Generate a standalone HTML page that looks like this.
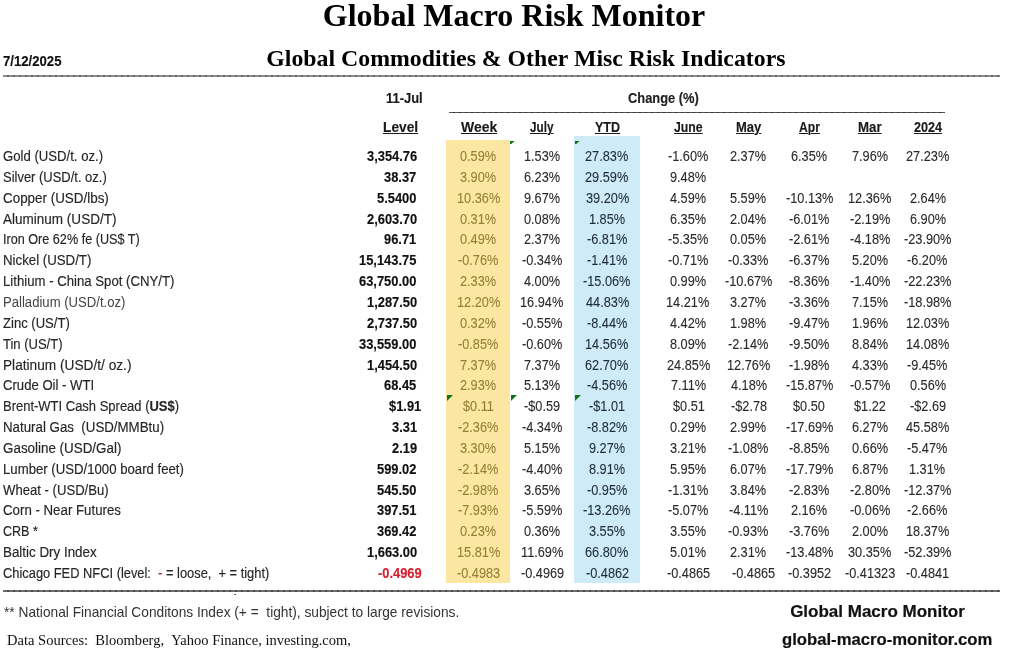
<!DOCTYPE html>
<html><head><meta charset="utf-8"><title>Global Macro Risk Monitor</title>
<style>
html,body{margin:0;padding:0;background:#fff;}
body{width:1024px;height:652px;position:relative;overflow:hidden;font-family:"Liberation Sans", sans-serif;}
.t{position:absolute;white-space:pre;line-height:1;transform-origin:0 0;}
.u{text-decoration:underline;text-underline-offset:1px;text-decoration-thickness:1px;}
.ln{position:absolute;}
.tri{position:absolute;width:0;height:0;border-top:6px solid #17701c;border-right:6px solid transparent;}
.clip{position:absolute;overflow:hidden;width:7px;height:3px;}
</style></head><body><div style="position:absolute;left:0;top:0;width:1024px;height:652px;filter:blur(0.3px)">

<div class="ln" style="left:446px;top:140px;width:64px;height:443px;background:#fce7a2"></div>
<div class="ln" style="left:574px;top:136px;width:66px;height:447px;background:#d0ebf8"></div>
<div class="ln" style="left:3px;top:75px;width:997px;height:2px;background:repeating-linear-gradient(90deg,#8c8c8c 0 4.5px,#6a6a6a 4.5px 6px)"></div>
<div class="ln" style="left:449px;top:111.6px;width:495.5px;height:1.6px;background:repeating-linear-gradient(90deg,#555 0 4px,#333 4px 6px)"></div>
<div class="ln" style="left:3px;top:590px;width:997px;height:2px;background:repeating-linear-gradient(90deg,#6e6e6e 0 4.5px,#4a4a4a 4.5px 6px)"></div>
<div class="ln" style="left:234px;top:594px;width:2px;height:1px;background:#666"></div>
<div class="tri" style="left:447px;top:395px"></div>
<div class="tri" style="left:510.5px;top:395px"></div>
<div class="tri" style="left:574.7px;top:395px"></div>
<div class="clip" style="left:510.2px;top:141px"><div class="tri" style="left:0;top:-2px;border-top-width:6.5px;border-right-width:7px"></div></div>
<div class="clip" style="left:575px;top:141px"><div class="tri" style="left:0;top:-2px;border-top-width:6.5px;border-right-width:7px"></div></div>
<div class="t" style="left:322.80px;top:-1.00px;font-family:'Liberation Serif', serif;font-size:32px;font-weight:bold;color:#000;">Global Macro Risk Monitor</div>
<div class="t" style="left:266.35px;top:47.00px;font-family:'Liberation Serif', serif;font-size:23.8px;font-weight:bold;color:#000;">Global Commodities &amp; Other Misc Risk Indicators</div>
<div class="t" style="left:2.63px;top:54.00px;font-family:'Liberation Sans', sans-serif;font-size:14px;font-weight:bold;color:#111;transform:scaleX(0.9382);-webkit-text-stroke:0.15px #111;">7/12/2025</div>
<div class="t" style="left:385.58px;top:91.00px;font-family:'Liberation Sans', sans-serif;font-size:14px;font-weight:bold;color:#1a1a1a;transform:scaleX(0.9245);-webkit-text-stroke:0.15px #1a1a1a;">11-Jul</div>
<div class="t" style="left:628.34px;top:91.00px;font-family:'Liberation Sans', sans-serif;font-size:14px;font-weight:bold;color:#222;transform:scaleX(0.9201);-webkit-text-stroke:0.15px #222;">Change (%)</div>
<div class="t u" style="left:382.62px;top:120.00px;font-family:'Liberation Sans', sans-serif;font-size:14px;font-weight:bold;color:#1a1a1a;transform:scaleX(0.9807);-webkit-text-stroke:0.15px #1a1a1a;">Level</div>
<div class="t u" style="left:460.80px;top:120.00px;font-family:'Liberation Sans', sans-serif;font-size:14px;font-weight:bold;color:#1a1a1a;transform:scaleX(0.9959);-webkit-text-stroke:0.15px #1a1a1a;">Week</div>
<div class="t u" style="left:530.49px;top:120.00px;font-family:'Liberation Sans', sans-serif;font-size:14px;font-weight:bold;color:#1a1a1a;transform:scaleX(0.8360);-webkit-text-stroke:0.15px #1a1a1a;">July</div>
<div class="t u" style="left:594.78px;top:120.00px;font-family:'Liberation Sans', sans-serif;font-size:14px;font-weight:bold;color:#1a1a1a;transform:scaleX(0.8954);-webkit-text-stroke:0.15px #1a1a1a;">YTD</div>
<div class="t u" style="left:673.78px;top:120.00px;font-family:'Liberation Sans', sans-serif;font-size:14px;font-weight:bold;color:#1a1a1a;transform:scaleX(0.8750);-webkit-text-stroke:0.15px #1a1a1a;">June</div>
<div class="t u" style="left:736.07px;top:120.00px;font-family:'Liberation Sans', sans-serif;font-size:14px;font-weight:bold;color:#1a1a1a;transform:scaleX(0.9308);-webkit-text-stroke:0.15px #1a1a1a;">May</div>
<div class="t u" style="left:799.07px;top:120.00px;font-family:'Liberation Sans', sans-serif;font-size:14px;font-weight:bold;color:#1a1a1a;transform:scaleX(0.8681);-webkit-text-stroke:0.15px #1a1a1a;">Apr</div>
<div class="t u" style="left:858.35px;top:120.00px;font-family:'Liberation Sans', sans-serif;font-size:14px;font-weight:bold;color:#1a1a1a;transform:scaleX(0.9474);-webkit-text-stroke:0.15px #1a1a1a;">Mar</div>
<div class="t u" style="left:914.05px;top:120.00px;font-family:'Liberation Sans', sans-serif;font-size:14px;font-weight:bold;color:#1a1a1a;transform:scaleX(0.9016);-webkit-text-stroke:0.15px #1a1a1a;">2024</div>
<div class="t" style="left:3.00px;top:149.00px;font-family:'Liberation Sans', sans-serif;font-size:14px;color:#262626;transform:scaleX(0.9390);-webkit-text-stroke:0.15px #262626;">Gold (USD/t. oz.)</div>
<div class="t" style="left:366.52px;top:149.00px;font-family:'Liberation Sans', sans-serif;font-size:14px;font-weight:bold;color:#111;transform:scaleX(0.9200);-webkit-text-stroke:0.15px #111;">3,354.76</div>
<div class="t" style="left:460.41px;top:149.00px;font-family:'Liberation Sans', sans-serif;font-size:14px;color:#968038;transform:scaleX(0.9100);-webkit-text-stroke:0.1px #968038;">0.59%</div>
<div class="t" style="left:523.69px;top:149.00px;font-family:'Liberation Sans', sans-serif;font-size:14px;color:#2a2a2a;transform:scaleX(0.9100);-webkit-text-stroke:0.1px #2a2a2a;">1.53%</div>
<div class="t" style="left:585.47px;top:149.00px;font-family:'Liberation Sans', sans-serif;font-size:14px;color:#1f2d3a;transform:scaleX(0.9100);-webkit-text-stroke:0.1px #1f2d3a;">27.83%</div>
<div class="t" style="left:668.05px;top:149.00px;font-family:'Liberation Sans', sans-serif;font-size:14px;color:#2a2a2a;transform:scaleX(0.9100);-webkit-text-stroke:0.1px #2a2a2a;">-1.60%</div>
<div class="t" style="left:730.30px;top:149.00px;font-family:'Liberation Sans', sans-serif;font-size:14px;color:#2a2a2a;transform:scaleX(0.9100);-webkit-text-stroke:0.1px #2a2a2a;">2.37%</div>
<div class="t" style="left:791.10px;top:149.00px;font-family:'Liberation Sans', sans-serif;font-size:14px;color:#2a2a2a;transform:scaleX(0.9100);-webkit-text-stroke:0.1px #2a2a2a;">6.35%</div>
<div class="t" style="left:851.80px;top:149.00px;font-family:'Liberation Sans', sans-serif;font-size:14px;color:#2a2a2a;transform:scaleX(0.9100);-webkit-text-stroke:0.1px #2a2a2a;">7.96%</div>
<div class="t" style="left:905.97px;top:149.00px;font-family:'Liberation Sans', sans-serif;font-size:14px;color:#2a2a2a;transform:scaleX(0.9100);-webkit-text-stroke:0.1px #2a2a2a;">27.23%</div>
<div class="t" style="left:3.00px;top:170.00px;font-family:'Liberation Sans', sans-serif;font-size:14px;color:#262626;transform:scaleX(0.9258);-webkit-text-stroke:0.15px #262626;">Silver (USD/t. oz.)</div>
<div class="t" style="left:384.46px;top:170.00px;font-family:'Liberation Sans', sans-serif;font-size:14px;font-weight:bold;color:#111;transform:scaleX(0.9200);-webkit-text-stroke:0.15px #111;">38.37</div>
<div class="t" style="left:460.41px;top:170.00px;font-family:'Liberation Sans', sans-serif;font-size:14px;color:#968038;transform:scaleX(0.9100);-webkit-text-stroke:0.1px #968038;">3.90%</div>
<div class="t" style="left:523.80px;top:170.00px;font-family:'Liberation Sans', sans-serif;font-size:14px;color:#2a2a2a;transform:scaleX(0.9100);-webkit-text-stroke:0.1px #2a2a2a;">6.23%</div>
<div class="t" style="left:585.47px;top:170.00px;font-family:'Liberation Sans', sans-serif;font-size:14px;color:#1f2d3a;transform:scaleX(0.9100);-webkit-text-stroke:0.1px #1f2d3a;">29.59%</div>
<div class="t" style="left:670.10px;top:170.00px;font-family:'Liberation Sans', sans-serif;font-size:14px;color:#2a2a2a;transform:scaleX(0.9100);-webkit-text-stroke:0.1px #2a2a2a;">9.48%</div>
<div class="t" style="left:3.00px;top:191.00px;font-family:'Liberation Sans', sans-serif;font-size:14px;color:#262626;transform:scaleX(0.9580);-webkit-text-stroke:0.15px #262626;">Copper (USD/lbs)</div>
<div class="t" style="left:377.33px;top:191.00px;font-family:'Liberation Sans', sans-serif;font-size:14px;font-weight:bold;color:#111;transform:scaleX(0.9200);-webkit-text-stroke:0.15px #111;">5.5400</div>
<div class="t" style="left:456.66px;top:191.00px;font-family:'Liberation Sans', sans-serif;font-size:14px;color:#968038;transform:scaleX(0.9100);-webkit-text-stroke:0.1px #968038;">10.36%</div>
<div class="t" style="left:523.80px;top:191.00px;font-family:'Liberation Sans', sans-serif;font-size:14px;color:#2a2a2a;transform:scaleX(0.9100);-webkit-text-stroke:0.1px #2a2a2a;">9.67%</div>
<div class="t" style="left:585.59px;top:191.00px;font-family:'Liberation Sans', sans-serif;font-size:14px;color:#1f2d3a;transform:scaleX(0.9100);-webkit-text-stroke:0.1px #1f2d3a;">39.20%</div>
<div class="t" style="left:670.33px;top:191.00px;font-family:'Liberation Sans', sans-serif;font-size:14px;color:#2a2a2a;transform:scaleX(0.9100);-webkit-text-stroke:0.1px #2a2a2a;">4.59%</div>
<div class="t" style="left:730.30px;top:191.00px;font-family:'Liberation Sans', sans-serif;font-size:14px;color:#2a2a2a;transform:scaleX(0.9100);-webkit-text-stroke:0.1px #2a2a2a;">5.59%</div>
<div class="t" style="left:785.53px;top:191.00px;font-family:'Liberation Sans', sans-serif;font-size:14px;color:#2a2a2a;transform:scaleX(0.9100);-webkit-text-stroke:0.1px #2a2a2a;">-10.13%</div>
<div class="t" style="left:848.16px;top:191.00px;font-family:'Liberation Sans', sans-serif;font-size:14px;color:#2a2a2a;transform:scaleX(0.9100);-webkit-text-stroke:0.1px #2a2a2a;">12.36%</div>
<div class="t" style="left:909.50px;top:191.00px;font-family:'Liberation Sans', sans-serif;font-size:14px;color:#2a2a2a;transform:scaleX(0.9100);-webkit-text-stroke:0.1px #2a2a2a;">2.64%</div>
<div class="t" style="left:3.00px;top:212.00px;font-family:'Liberation Sans', sans-serif;font-size:14px;color:#262626;transform:scaleX(0.9657);-webkit-text-stroke:0.15px #262626;">Aluminum (USD/T)</div>
<div class="t" style="left:366.52px;top:212.00px;font-family:'Liberation Sans', sans-serif;font-size:14px;font-weight:bold;color:#111;transform:scaleX(0.9200);-webkit-text-stroke:0.15px #111;">2,603.70</div>
<div class="t" style="left:460.41px;top:212.00px;font-family:'Liberation Sans', sans-serif;font-size:14px;color:#968038;transform:scaleX(0.9100);-webkit-text-stroke:0.1px #968038;">0.31%</div>
<div class="t" style="left:523.91px;top:212.00px;font-family:'Liberation Sans', sans-serif;font-size:14px;color:#2a2a2a;transform:scaleX(0.9100);-webkit-text-stroke:0.1px #2a2a2a;">0.08%</div>
<div class="t" style="left:588.89px;top:212.00px;font-family:'Liberation Sans', sans-serif;font-size:14px;color:#1f2d3a;transform:scaleX(0.9100);-webkit-text-stroke:0.1px #1f2d3a;">1.85%</div>
<div class="t" style="left:670.10px;top:212.00px;font-family:'Liberation Sans', sans-serif;font-size:14px;color:#2a2a2a;transform:scaleX(0.9100);-webkit-text-stroke:0.1px #2a2a2a;">6.35%</div>
<div class="t" style="left:730.30px;top:212.00px;font-family:'Liberation Sans', sans-serif;font-size:14px;color:#2a2a2a;transform:scaleX(0.9100);-webkit-text-stroke:0.1px #2a2a2a;">2.04%</div>
<div class="t" style="left:789.05px;top:212.00px;font-family:'Liberation Sans', sans-serif;font-size:14px;color:#2a2a2a;transform:scaleX(0.9100);-webkit-text-stroke:0.1px #2a2a2a;">-6.01%</div>
<div class="t" style="left:849.75px;top:212.00px;font-family:'Liberation Sans', sans-serif;font-size:14px;color:#2a2a2a;transform:scaleX(0.9100);-webkit-text-stroke:0.1px #2a2a2a;">-2.19%</div>
<div class="t" style="left:909.50px;top:212.00px;font-family:'Liberation Sans', sans-serif;font-size:14px;color:#2a2a2a;transform:scaleX(0.9100);-webkit-text-stroke:0.1px #2a2a2a;">6.90%</div>
<div class="t" style="left:3.00px;top:232.00px;font-family:'Liberation Sans', sans-serif;font-size:14px;color:#262626;transform:scaleX(0.9023);-webkit-text-stroke:0.15px #262626;">Iron Ore 62% fe (US$ T)</div>
<div class="t" style="left:384.23px;top:232.00px;font-family:'Liberation Sans', sans-serif;font-size:14px;font-weight:bold;color:#111;transform:scaleX(0.9200);-webkit-text-stroke:0.15px #111;">96.71</div>
<div class="t" style="left:460.41px;top:232.00px;font-family:'Liberation Sans', sans-serif;font-size:14px;color:#968038;transform:scaleX(0.9100);-webkit-text-stroke:0.1px #968038;">0.49%</div>
<div class="t" style="left:523.80px;top:232.00px;font-family:'Liberation Sans', sans-serif;font-size:14px;color:#2a2a2a;transform:scaleX(0.9100);-webkit-text-stroke:0.1px #2a2a2a;">2.37%</div>
<div class="t" style="left:586.95px;top:232.00px;font-family:'Liberation Sans', sans-serif;font-size:14px;color:#1f2d3a;transform:scaleX(0.9100);-webkit-text-stroke:0.1px #1f2d3a;">-6.81%</div>
<div class="t" style="left:668.05px;top:232.00px;font-family:'Liberation Sans', sans-serif;font-size:14px;color:#2a2a2a;transform:scaleX(0.9100);-webkit-text-stroke:0.1px #2a2a2a;">-5.35%</div>
<div class="t" style="left:730.41px;top:232.00px;font-family:'Liberation Sans', sans-serif;font-size:14px;color:#2a2a2a;transform:scaleX(0.9100);-webkit-text-stroke:0.1px #2a2a2a;">0.05%</div>
<div class="t" style="left:789.05px;top:232.00px;font-family:'Liberation Sans', sans-serif;font-size:14px;color:#2a2a2a;transform:scaleX(0.9100);-webkit-text-stroke:0.1px #2a2a2a;">-2.61%</div>
<div class="t" style="left:849.75px;top:232.00px;font-family:'Liberation Sans', sans-serif;font-size:14px;color:#2a2a2a;transform:scaleX(0.9100);-webkit-text-stroke:0.1px #2a2a2a;">-4.18%</div>
<div class="t" style="left:903.93px;top:232.00px;font-family:'Liberation Sans', sans-serif;font-size:14px;color:#2a2a2a;transform:scaleX(0.9100);-webkit-text-stroke:0.1px #2a2a2a;">-23.90%</div>
<div class="t" style="left:3.00px;top:253.00px;font-family:'Liberation Sans', sans-serif;font-size:14px;color:#262626;transform:scaleX(0.9470);-webkit-text-stroke:0.15px #262626;">Nickel (USD/T)</div>
<div class="t" style="left:359.16px;top:253.00px;font-family:'Liberation Sans', sans-serif;font-size:14px;font-weight:bold;color:#111;transform:scaleX(0.9200);-webkit-text-stroke:0.15px #111;">15,143.75</div>
<div class="t" style="left:458.25px;top:253.00px;font-family:'Liberation Sans', sans-serif;font-size:14px;color:#968038;transform:scaleX(0.9100);-webkit-text-stroke:0.1px #968038;">-0.76%</div>
<div class="t" style="left:521.75px;top:253.00px;font-family:'Liberation Sans', sans-serif;font-size:14px;color:#2a2a2a;transform:scaleX(0.9100);-webkit-text-stroke:0.1px #2a2a2a;">-0.34%</div>
<div class="t" style="left:586.95px;top:253.00px;font-family:'Liberation Sans', sans-serif;font-size:14px;color:#1f2d3a;transform:scaleX(0.9100);-webkit-text-stroke:0.1px #1f2d3a;">-1.41%</div>
<div class="t" style="left:668.05px;top:253.00px;font-family:'Liberation Sans', sans-serif;font-size:14px;color:#2a2a2a;transform:scaleX(0.9100);-webkit-text-stroke:0.1px #2a2a2a;">-0.71%</div>
<div class="t" style="left:728.25px;top:253.00px;font-family:'Liberation Sans', sans-serif;font-size:14px;color:#2a2a2a;transform:scaleX(0.9100);-webkit-text-stroke:0.1px #2a2a2a;">-0.33%</div>
<div class="t" style="left:789.05px;top:253.00px;font-family:'Liberation Sans', sans-serif;font-size:14px;color:#2a2a2a;transform:scaleX(0.9100);-webkit-text-stroke:0.1px #2a2a2a;">-6.37%</div>
<div class="t" style="left:851.80px;top:253.00px;font-family:'Liberation Sans', sans-serif;font-size:14px;color:#2a2a2a;transform:scaleX(0.9100);-webkit-text-stroke:0.1px #2a2a2a;">5.20%</div>
<div class="t" style="left:907.45px;top:253.00px;font-family:'Liberation Sans', sans-serif;font-size:14px;color:#2a2a2a;transform:scaleX(0.9100);-webkit-text-stroke:0.1px #2a2a2a;">-6.20%</div>
<div class="t" style="left:3.00px;top:274.00px;font-family:'Liberation Sans', sans-serif;font-size:14px;color:#262626;transform:scaleX(0.9412);-webkit-text-stroke:0.15px #262626;">Lithium - China Spot (CNY/T)</div>
<div class="t" style="left:359.39px;top:274.00px;font-family:'Liberation Sans', sans-serif;font-size:14px;font-weight:bold;color:#111;transform:scaleX(0.9200);-webkit-text-stroke:0.15px #111;">63,750.00</div>
<div class="t" style="left:460.30px;top:274.00px;font-family:'Liberation Sans', sans-serif;font-size:14px;color:#968038;transform:scaleX(0.9100);-webkit-text-stroke:0.1px #968038;">2.33%</div>
<div class="t" style="left:524.03px;top:274.00px;font-family:'Liberation Sans', sans-serif;font-size:14px;color:#2a2a2a;transform:scaleX(0.9100);-webkit-text-stroke:0.1px #2a2a2a;">4.00%</div>
<div class="t" style="left:583.43px;top:274.00px;font-family:'Liberation Sans', sans-serif;font-size:14px;color:#1f2d3a;transform:scaleX(0.9100);-webkit-text-stroke:0.1px #1f2d3a;">-15.06%</div>
<div class="t" style="left:670.21px;top:274.00px;font-family:'Liberation Sans', sans-serif;font-size:14px;color:#2a2a2a;transform:scaleX(0.9100);-webkit-text-stroke:0.1px #2a2a2a;">0.99%</div>
<div class="t" style="left:724.73px;top:274.00px;font-family:'Liberation Sans', sans-serif;font-size:14px;color:#2a2a2a;transform:scaleX(0.9100);-webkit-text-stroke:0.1px #2a2a2a;">-10.67%</div>
<div class="t" style="left:789.05px;top:274.00px;font-family:'Liberation Sans', sans-serif;font-size:14px;color:#2a2a2a;transform:scaleX(0.9100);-webkit-text-stroke:0.1px #2a2a2a;">-8.36%</div>
<div class="t" style="left:849.75px;top:274.00px;font-family:'Liberation Sans', sans-serif;font-size:14px;color:#2a2a2a;transform:scaleX(0.9100);-webkit-text-stroke:0.1px #2a2a2a;">-1.40%</div>
<div class="t" style="left:903.93px;top:274.00px;font-family:'Liberation Sans', sans-serif;font-size:14px;color:#2a2a2a;transform:scaleX(0.9100);-webkit-text-stroke:0.1px #2a2a2a;">-22.23%</div>
<div class="t" style="left:3.00px;top:295.00px;font-family:'Liberation Sans', sans-serif;font-size:14px;color:#444;transform:scaleX(0.9364);">Palladium (USD/t.oz)</div>
<div class="t" style="left:366.52px;top:295.00px;font-family:'Liberation Sans', sans-serif;font-size:14px;font-weight:bold;color:#111;transform:scaleX(0.9200);-webkit-text-stroke:0.15px #111;">1,287.50</div>
<div class="t" style="left:456.66px;top:295.00px;font-family:'Liberation Sans', sans-serif;font-size:14px;color:#968038;transform:scaleX(0.9100);-webkit-text-stroke:0.1px #968038;">12.20%</div>
<div class="t" style="left:520.16px;top:295.00px;font-family:'Liberation Sans', sans-serif;font-size:14px;color:#2a2a2a;transform:scaleX(0.9100);-webkit-text-stroke:0.1px #2a2a2a;">16.94%</div>
<div class="t" style="left:585.70px;top:295.00px;font-family:'Liberation Sans', sans-serif;font-size:14px;color:#1f2d3a;transform:scaleX(0.9100);-webkit-text-stroke:0.1px #1f2d3a;">44.83%</div>
<div class="t" style="left:666.46px;top:295.00px;font-family:'Liberation Sans', sans-serif;font-size:14px;color:#2a2a2a;transform:scaleX(0.9100);-webkit-text-stroke:0.1px #2a2a2a;">14.21%</div>
<div class="t" style="left:730.41px;top:295.00px;font-family:'Liberation Sans', sans-serif;font-size:14px;color:#2a2a2a;transform:scaleX(0.9100);-webkit-text-stroke:0.1px #2a2a2a;">3.27%</div>
<div class="t" style="left:789.05px;top:295.00px;font-family:'Liberation Sans', sans-serif;font-size:14px;color:#2a2a2a;transform:scaleX(0.9100);-webkit-text-stroke:0.1px #2a2a2a;">-3.36%</div>
<div class="t" style="left:851.80px;top:295.00px;font-family:'Liberation Sans', sans-serif;font-size:14px;color:#2a2a2a;transform:scaleX(0.9100);-webkit-text-stroke:0.1px #2a2a2a;">7.15%</div>
<div class="t" style="left:903.93px;top:295.00px;font-family:'Liberation Sans', sans-serif;font-size:14px;color:#2a2a2a;transform:scaleX(0.9100);-webkit-text-stroke:0.1px #2a2a2a;">-18.98%</div>
<div class="t" style="left:3.00px;top:316.00px;font-family:'Liberation Sans', sans-serif;font-size:14px;color:#262626;transform:scaleX(0.9329);-webkit-text-stroke:0.15px #262626;">Zinc (US/T)</div>
<div class="t" style="left:366.52px;top:316.00px;font-family:'Liberation Sans', sans-serif;font-size:14px;font-weight:bold;color:#111;transform:scaleX(0.9200);-webkit-text-stroke:0.15px #111;">2,737.50</div>
<div class="t" style="left:460.41px;top:316.00px;font-family:'Liberation Sans', sans-serif;font-size:14px;color:#968038;transform:scaleX(0.9100);-webkit-text-stroke:0.1px #968038;">0.32%</div>
<div class="t" style="left:521.75px;top:316.00px;font-family:'Liberation Sans', sans-serif;font-size:14px;color:#2a2a2a;transform:scaleX(0.9100);-webkit-text-stroke:0.1px #2a2a2a;">-0.55%</div>
<div class="t" style="left:586.95px;top:316.00px;font-family:'Liberation Sans', sans-serif;font-size:14px;color:#1f2d3a;transform:scaleX(0.9100);-webkit-text-stroke:0.1px #1f2d3a;">-8.44%</div>
<div class="t" style="left:670.33px;top:316.00px;font-family:'Liberation Sans', sans-serif;font-size:14px;color:#2a2a2a;transform:scaleX(0.9100);-webkit-text-stroke:0.1px #2a2a2a;">4.42%</div>
<div class="t" style="left:730.19px;top:316.00px;font-family:'Liberation Sans', sans-serif;font-size:14px;color:#2a2a2a;transform:scaleX(0.9100);-webkit-text-stroke:0.1px #2a2a2a;">1.98%</div>
<div class="t" style="left:789.05px;top:316.00px;font-family:'Liberation Sans', sans-serif;font-size:14px;color:#2a2a2a;transform:scaleX(0.9100);-webkit-text-stroke:0.1px #2a2a2a;">-9.47%</div>
<div class="t" style="left:851.69px;top:316.00px;font-family:'Liberation Sans', sans-serif;font-size:14px;color:#2a2a2a;transform:scaleX(0.9100);-webkit-text-stroke:0.1px #2a2a2a;">1.96%</div>
<div class="t" style="left:905.86px;top:316.00px;font-family:'Liberation Sans', sans-serif;font-size:14px;color:#2a2a2a;transform:scaleX(0.9100);-webkit-text-stroke:0.1px #2a2a2a;">12.03%</div>
<div class="t" style="left:3.00px;top:337.00px;font-family:'Liberation Sans', sans-serif;font-size:14px;color:#262626;transform:scaleX(0.9296);-webkit-text-stroke:0.15px #262626;">Tin (US/T)</div>
<div class="t" style="left:359.39px;top:337.00px;font-family:'Liberation Sans', sans-serif;font-size:14px;font-weight:bold;color:#111;transform:scaleX(0.9200);-webkit-text-stroke:0.15px #111;">33,559.00</div>
<div class="t" style="left:458.25px;top:337.00px;font-family:'Liberation Sans', sans-serif;font-size:14px;color:#968038;transform:scaleX(0.9100);-webkit-text-stroke:0.1px #968038;">-0.85%</div>
<div class="t" style="left:521.75px;top:337.00px;font-family:'Liberation Sans', sans-serif;font-size:14px;color:#2a2a2a;transform:scaleX(0.9100);-webkit-text-stroke:0.1px #2a2a2a;">-0.60%</div>
<div class="t" style="left:585.36px;top:337.00px;font-family:'Liberation Sans', sans-serif;font-size:14px;color:#1f2d3a;transform:scaleX(0.9100);-webkit-text-stroke:0.1px #1f2d3a;">14.56%</div>
<div class="t" style="left:670.21px;top:337.00px;font-family:'Liberation Sans', sans-serif;font-size:14px;color:#2a2a2a;transform:scaleX(0.9100);-webkit-text-stroke:0.1px #2a2a2a;">8.09%</div>
<div class="t" style="left:728.25px;top:337.00px;font-family:'Liberation Sans', sans-serif;font-size:14px;color:#2a2a2a;transform:scaleX(0.9100);-webkit-text-stroke:0.1px #2a2a2a;">-2.14%</div>
<div class="t" style="left:789.05px;top:337.00px;font-family:'Liberation Sans', sans-serif;font-size:14px;color:#2a2a2a;transform:scaleX(0.9100);-webkit-text-stroke:0.1px #2a2a2a;">-9.50%</div>
<div class="t" style="left:851.91px;top:337.00px;font-family:'Liberation Sans', sans-serif;font-size:14px;color:#2a2a2a;transform:scaleX(0.9100);-webkit-text-stroke:0.1px #2a2a2a;">8.84%</div>
<div class="t" style="left:905.86px;top:337.00px;font-family:'Liberation Sans', sans-serif;font-size:14px;color:#2a2a2a;transform:scaleX(0.9100);-webkit-text-stroke:0.1px #2a2a2a;">14.08%</div>
<div class="t" style="left:3.00px;top:358.00px;font-family:'Liberation Sans', sans-serif;font-size:14px;color:#262626;transform:scaleX(0.9770);-webkit-text-stroke:0.15px #262626;">Platinum (USD/t/ oz.)</div>
<div class="t" style="left:366.52px;top:358.00px;font-family:'Liberation Sans', sans-serif;font-size:14px;font-weight:bold;color:#111;transform:scaleX(0.9200);-webkit-text-stroke:0.15px #111;">1,454.50</div>
<div class="t" style="left:460.30px;top:358.00px;font-family:'Liberation Sans', sans-serif;font-size:14px;color:#968038;transform:scaleX(0.9100);-webkit-text-stroke:0.1px #968038;">7.37%</div>
<div class="t" style="left:523.80px;top:358.00px;font-family:'Liberation Sans', sans-serif;font-size:14px;color:#2a2a2a;transform:scaleX(0.9100);-webkit-text-stroke:0.1px #2a2a2a;">7.37%</div>
<div class="t" style="left:585.47px;top:358.00px;font-family:'Liberation Sans', sans-serif;font-size:14px;color:#1f2d3a;transform:scaleX(0.9100);-webkit-text-stroke:0.1px #1f2d3a;">62.70%</div>
<div class="t" style="left:666.57px;top:358.00px;font-family:'Liberation Sans', sans-serif;font-size:14px;color:#2a2a2a;transform:scaleX(0.9100);-webkit-text-stroke:0.1px #2a2a2a;">24.85%</div>
<div class="t" style="left:726.66px;top:358.00px;font-family:'Liberation Sans', sans-serif;font-size:14px;color:#2a2a2a;transform:scaleX(0.9100);-webkit-text-stroke:0.1px #2a2a2a;">12.76%</div>
<div class="t" style="left:789.05px;top:358.00px;font-family:'Liberation Sans', sans-serif;font-size:14px;color:#2a2a2a;transform:scaleX(0.9100);-webkit-text-stroke:0.1px #2a2a2a;">-1.98%</div>
<div class="t" style="left:852.03px;top:358.00px;font-family:'Liberation Sans', sans-serif;font-size:14px;color:#2a2a2a;transform:scaleX(0.9100);-webkit-text-stroke:0.1px #2a2a2a;">4.33%</div>
<div class="t" style="left:907.45px;top:358.00px;font-family:'Liberation Sans', sans-serif;font-size:14px;color:#2a2a2a;transform:scaleX(0.9100);-webkit-text-stroke:0.1px #2a2a2a;">-9.45%</div>
<div class="t" style="left:3.00px;top:378.00px;font-family:'Liberation Sans', sans-serif;font-size:14px;color:#262626;transform:scaleX(0.9375);-webkit-text-stroke:0.15px #262626;">Crude Oil - WTI</div>
<div class="t" style="left:384.23px;top:378.00px;font-family:'Liberation Sans', sans-serif;font-size:14px;font-weight:bold;color:#111;transform:scaleX(0.9200);-webkit-text-stroke:0.15px #111;">68.45</div>
<div class="t" style="left:460.30px;top:378.00px;font-family:'Liberation Sans', sans-serif;font-size:14px;color:#968038;transform:scaleX(0.9100);-webkit-text-stroke:0.1px #968038;">2.93%</div>
<div class="t" style="left:523.80px;top:378.00px;font-family:'Liberation Sans', sans-serif;font-size:14px;color:#2a2a2a;transform:scaleX(0.9100);-webkit-text-stroke:0.1px #2a2a2a;">5.13%</div>
<div class="t" style="left:586.95px;top:378.00px;font-family:'Liberation Sans', sans-serif;font-size:14px;color:#1f2d3a;transform:scaleX(0.9100);-webkit-text-stroke:0.1px #1f2d3a;">-4.56%</div>
<div class="t" style="left:670.55px;top:378.00px;font-family:'Liberation Sans', sans-serif;font-size:14px;color:#2a2a2a;transform:scaleX(0.9100);-webkit-text-stroke:0.1px #2a2a2a;">7.11%</div>
<div class="t" style="left:730.53px;top:378.00px;font-family:'Liberation Sans', sans-serif;font-size:14px;color:#2a2a2a;transform:scaleX(0.9100);-webkit-text-stroke:0.1px #2a2a2a;">4.18%</div>
<div class="t" style="left:785.53px;top:378.00px;font-family:'Liberation Sans', sans-serif;font-size:14px;color:#2a2a2a;transform:scaleX(0.9100);-webkit-text-stroke:0.1px #2a2a2a;">-15.87%</div>
<div class="t" style="left:849.75px;top:378.00px;font-family:'Liberation Sans', sans-serif;font-size:14px;color:#2a2a2a;transform:scaleX(0.9100);-webkit-text-stroke:0.1px #2a2a2a;">-0.57%</div>
<div class="t" style="left:909.61px;top:378.00px;font-family:'Liberation Sans', sans-serif;font-size:14px;color:#2a2a2a;transform:scaleX(0.9100);-webkit-text-stroke:0.1px #2a2a2a;">0.56%</div>
<div class="t" style="left:3.00px;top:399.00px;font-family:'Liberation Sans', sans-serif;font-size:14px;color:#262626;transform:scaleX(0.9275);-webkit-text-stroke:0.15px #262626;">Brent-WTI Cash Spread (<b>US$</b>)</div>
<div class="t" style="left:388.63px;top:399.00px;font-family:'Liberation Sans', sans-serif;font-size:14px;font-weight:bold;color:#111;transform:scaleX(0.9200);-webkit-text-stroke:0.15px #111;">$1.91</div>
<div class="t" style="left:463.26px;top:399.00px;font-family:'Liberation Sans', sans-serif;font-size:14px;color:#968038;transform:scaleX(0.9100);-webkit-text-stroke:0.1px #968038;">$0.11</div>
<div class="t" style="left:524.03px;top:399.00px;font-family:'Liberation Sans', sans-serif;font-size:14px;color:#2a2a2a;transform:scaleX(0.9100);-webkit-text-stroke:0.1px #2a2a2a;">-$0.59</div>
<div class="t" style="left:589.23px;top:399.00px;font-family:'Liberation Sans', sans-serif;font-size:14px;color:#1f2d3a;transform:scaleX(0.9100);-webkit-text-stroke:0.1px #1f2d3a;">-$1.01</div>
<div class="t" style="left:672.60px;top:399.00px;font-family:'Liberation Sans', sans-serif;font-size:14px;color:#2a2a2a;transform:scaleX(0.9100);-webkit-text-stroke:0.1px #2a2a2a;">$0.51</div>
<div class="t" style="left:730.53px;top:399.00px;font-family:'Liberation Sans', sans-serif;font-size:14px;color:#2a2a2a;transform:scaleX(0.9100);-webkit-text-stroke:0.1px #2a2a2a;">-$2.78</div>
<div class="t" style="left:793.49px;top:399.00px;font-family:'Liberation Sans', sans-serif;font-size:14px;color:#2a2a2a;transform:scaleX(0.9100);-webkit-text-stroke:0.1px #2a2a2a;">$0.50</div>
<div class="t" style="left:854.30px;top:399.00px;font-family:'Liberation Sans', sans-serif;font-size:14px;color:#2a2a2a;transform:scaleX(0.9100);-webkit-text-stroke:0.1px #2a2a2a;">$1.22</div>
<div class="t" style="left:909.73px;top:399.00px;font-family:'Liberation Sans', sans-serif;font-size:14px;color:#2a2a2a;transform:scaleX(0.9100);-webkit-text-stroke:0.1px #2a2a2a;">-$2.69</div>
<div class="t" style="left:3.00px;top:420.00px;font-family:'Liberation Sans', sans-serif;font-size:14px;color:#262626;transform:scaleX(0.9499);-webkit-text-stroke:0.15px #262626;">Natural Gas &nbsp;(USD/MMBtu)</div>
<div class="t" style="left:391.59px;top:420.00px;font-family:'Liberation Sans', sans-serif;font-size:14px;font-weight:bold;color:#111;transform:scaleX(0.9200);-webkit-text-stroke:0.15px #111;">3.31</div>
<div class="t" style="left:458.25px;top:420.00px;font-family:'Liberation Sans', sans-serif;font-size:14px;color:#968038;transform:scaleX(0.9100);-webkit-text-stroke:0.1px #968038;">-2.36%</div>
<div class="t" style="left:521.75px;top:420.00px;font-family:'Liberation Sans', sans-serif;font-size:14px;color:#2a2a2a;transform:scaleX(0.9100);-webkit-text-stroke:0.1px #2a2a2a;">-4.34%</div>
<div class="t" style="left:586.95px;top:420.00px;font-family:'Liberation Sans', sans-serif;font-size:14px;color:#1f2d3a;transform:scaleX(0.9100);-webkit-text-stroke:0.1px #1f2d3a;">-8.82%</div>
<div class="t" style="left:670.21px;top:420.00px;font-family:'Liberation Sans', sans-serif;font-size:14px;color:#2a2a2a;transform:scaleX(0.9100);-webkit-text-stroke:0.1px #2a2a2a;">0.29%</div>
<div class="t" style="left:730.30px;top:420.00px;font-family:'Liberation Sans', sans-serif;font-size:14px;color:#2a2a2a;transform:scaleX(0.9100);-webkit-text-stroke:0.1px #2a2a2a;">2.99%</div>
<div class="t" style="left:785.53px;top:420.00px;font-family:'Liberation Sans', sans-serif;font-size:14px;color:#2a2a2a;transform:scaleX(0.9100);-webkit-text-stroke:0.1px #2a2a2a;">-17.69%</div>
<div class="t" style="left:851.80px;top:420.00px;font-family:'Liberation Sans', sans-serif;font-size:14px;color:#2a2a2a;transform:scaleX(0.9100);-webkit-text-stroke:0.1px #2a2a2a;">6.27%</div>
<div class="t" style="left:906.20px;top:420.00px;font-family:'Liberation Sans', sans-serif;font-size:14px;color:#2a2a2a;transform:scaleX(0.9100);-webkit-text-stroke:0.1px #2a2a2a;">45.58%</div>
<div class="t" style="left:3.00px;top:441.00px;font-family:'Liberation Sans', sans-serif;font-size:14px;color:#262626;transform:scaleX(0.9572);-webkit-text-stroke:0.15px #262626;">Gasoline (USD/Gal)</div>
<div class="t" style="left:391.59px;top:441.00px;font-family:'Liberation Sans', sans-serif;font-size:14px;font-weight:bold;color:#111;transform:scaleX(0.9200);-webkit-text-stroke:0.15px #111;">2.19</div>
<div class="t" style="left:460.41px;top:441.00px;font-family:'Liberation Sans', sans-serif;font-size:14px;color:#968038;transform:scaleX(0.9100);-webkit-text-stroke:0.1px #968038;">3.30%</div>
<div class="t" style="left:523.80px;top:441.00px;font-family:'Liberation Sans', sans-serif;font-size:14px;color:#2a2a2a;transform:scaleX(0.9100);-webkit-text-stroke:0.1px #2a2a2a;">5.15%</div>
<div class="t" style="left:589.00px;top:441.00px;font-family:'Liberation Sans', sans-serif;font-size:14px;color:#1f2d3a;transform:scaleX(0.9100);-webkit-text-stroke:0.1px #1f2d3a;">9.27%</div>
<div class="t" style="left:670.21px;top:441.00px;font-family:'Liberation Sans', sans-serif;font-size:14px;color:#2a2a2a;transform:scaleX(0.9100);-webkit-text-stroke:0.1px #2a2a2a;">3.21%</div>
<div class="t" style="left:728.25px;top:441.00px;font-family:'Liberation Sans', sans-serif;font-size:14px;color:#2a2a2a;transform:scaleX(0.9100);-webkit-text-stroke:0.1px #2a2a2a;">-1.08%</div>
<div class="t" style="left:789.05px;top:441.00px;font-family:'Liberation Sans', sans-serif;font-size:14px;color:#2a2a2a;transform:scaleX(0.9100);-webkit-text-stroke:0.1px #2a2a2a;">-8.85%</div>
<div class="t" style="left:851.91px;top:441.00px;font-family:'Liberation Sans', sans-serif;font-size:14px;color:#2a2a2a;transform:scaleX(0.9100);-webkit-text-stroke:0.1px #2a2a2a;">0.66%</div>
<div class="t" style="left:907.45px;top:441.00px;font-family:'Liberation Sans', sans-serif;font-size:14px;color:#2a2a2a;transform:scaleX(0.9100);-webkit-text-stroke:0.1px #2a2a2a;">-5.47%</div>
<div class="t" style="left:3.00px;top:462.00px;font-family:'Liberation Sans', sans-serif;font-size:14px;color:#262626;transform:scaleX(0.9412);-webkit-text-stroke:0.15px #262626;">Lumber (USD/1000 board feet)</div>
<div class="t" style="left:377.33px;top:462.00px;font-family:'Liberation Sans', sans-serif;font-size:14px;font-weight:bold;color:#111;transform:scaleX(0.9200);-webkit-text-stroke:0.15px #111;">599.02</div>
<div class="t" style="left:458.25px;top:462.00px;font-family:'Liberation Sans', sans-serif;font-size:14px;color:#968038;transform:scaleX(0.9100);-webkit-text-stroke:0.1px #968038;">-2.14%</div>
<div class="t" style="left:521.75px;top:462.00px;font-family:'Liberation Sans', sans-serif;font-size:14px;color:#2a2a2a;transform:scaleX(0.9100);-webkit-text-stroke:0.1px #2a2a2a;">-4.40%</div>
<div class="t" style="left:589.11px;top:462.00px;font-family:'Liberation Sans', sans-serif;font-size:14px;color:#1f2d3a;transform:scaleX(0.9100);-webkit-text-stroke:0.1px #1f2d3a;">8.91%</div>
<div class="t" style="left:670.10px;top:462.00px;font-family:'Liberation Sans', sans-serif;font-size:14px;color:#2a2a2a;transform:scaleX(0.9100);-webkit-text-stroke:0.1px #2a2a2a;">5.95%</div>
<div class="t" style="left:730.30px;top:462.00px;font-family:'Liberation Sans', sans-serif;font-size:14px;color:#2a2a2a;transform:scaleX(0.9100);-webkit-text-stroke:0.1px #2a2a2a;">6.07%</div>
<div class="t" style="left:785.53px;top:462.00px;font-family:'Liberation Sans', sans-serif;font-size:14px;color:#2a2a2a;transform:scaleX(0.9100);-webkit-text-stroke:0.1px #2a2a2a;">-17.79%</div>
<div class="t" style="left:851.80px;top:462.00px;font-family:'Liberation Sans', sans-serif;font-size:14px;color:#2a2a2a;transform:scaleX(0.9100);-webkit-text-stroke:0.1px #2a2a2a;">6.87%</div>
<div class="t" style="left:909.39px;top:462.00px;font-family:'Liberation Sans', sans-serif;font-size:14px;color:#2a2a2a;transform:scaleX(0.9100);-webkit-text-stroke:0.1px #2a2a2a;">1.31%</div>
<div class="t" style="left:3.00px;top:483.00px;font-family:'Liberation Sans', sans-serif;font-size:14px;color:#262626;transform:scaleX(0.9366);-webkit-text-stroke:0.15px #262626;">Wheat - (USD/Bu)</div>
<div class="t" style="left:377.33px;top:483.00px;font-family:'Liberation Sans', sans-serif;font-size:14px;font-weight:bold;color:#111;transform:scaleX(0.9200);-webkit-text-stroke:0.15px #111;">545.50</div>
<div class="t" style="left:458.25px;top:483.00px;font-family:'Liberation Sans', sans-serif;font-size:14px;color:#968038;transform:scaleX(0.9100);-webkit-text-stroke:0.1px #968038;">-2.98%</div>
<div class="t" style="left:523.91px;top:483.00px;font-family:'Liberation Sans', sans-serif;font-size:14px;color:#2a2a2a;transform:scaleX(0.9100);-webkit-text-stroke:0.1px #2a2a2a;">3.65%</div>
<div class="t" style="left:586.95px;top:483.00px;font-family:'Liberation Sans', sans-serif;font-size:14px;color:#1f2d3a;transform:scaleX(0.9100);-webkit-text-stroke:0.1px #1f2d3a;">-0.95%</div>
<div class="t" style="left:668.05px;top:483.00px;font-family:'Liberation Sans', sans-serif;font-size:14px;color:#2a2a2a;transform:scaleX(0.9100);-webkit-text-stroke:0.1px #2a2a2a;">-1.31%</div>
<div class="t" style="left:730.41px;top:483.00px;font-family:'Liberation Sans', sans-serif;font-size:14px;color:#2a2a2a;transform:scaleX(0.9100);-webkit-text-stroke:0.1px #2a2a2a;">3.84%</div>
<div class="t" style="left:789.05px;top:483.00px;font-family:'Liberation Sans', sans-serif;font-size:14px;color:#2a2a2a;transform:scaleX(0.9100);-webkit-text-stroke:0.1px #2a2a2a;">-2.83%</div>
<div class="t" style="left:849.75px;top:483.00px;font-family:'Liberation Sans', sans-serif;font-size:14px;color:#2a2a2a;transform:scaleX(0.9100);-webkit-text-stroke:0.1px #2a2a2a;">-2.80%</div>
<div class="t" style="left:903.93px;top:483.00px;font-family:'Liberation Sans', sans-serif;font-size:14px;color:#2a2a2a;transform:scaleX(0.9100);-webkit-text-stroke:0.1px #2a2a2a;">-12.37%</div>
<div class="t" style="left:3.00px;top:503.00px;font-family:'Liberation Sans', sans-serif;font-size:14px;color:#262626;transform:scaleX(0.9476);-webkit-text-stroke:0.15px #262626;">Corn - Near Futures</div>
<div class="t" style="left:377.10px;top:503.00px;font-family:'Liberation Sans', sans-serif;font-size:14px;font-weight:bold;color:#111;transform:scaleX(0.9200);-webkit-text-stroke:0.15px #111;">397.51</div>
<div class="t" style="left:458.25px;top:503.00px;font-family:'Liberation Sans', sans-serif;font-size:14px;color:#968038;transform:scaleX(0.9100);-webkit-text-stroke:0.1px #968038;">-7.93%</div>
<div class="t" style="left:521.75px;top:503.00px;font-family:'Liberation Sans', sans-serif;font-size:14px;color:#2a2a2a;transform:scaleX(0.9100);-webkit-text-stroke:0.1px #2a2a2a;">-5.59%</div>
<div class="t" style="left:583.43px;top:503.00px;font-family:'Liberation Sans', sans-serif;font-size:14px;color:#1f2d3a;transform:scaleX(0.9100);-webkit-text-stroke:0.1px #1f2d3a;">-13.26%</div>
<div class="t" style="left:668.05px;top:503.00px;font-family:'Liberation Sans', sans-serif;font-size:14px;color:#2a2a2a;transform:scaleX(0.9100);-webkit-text-stroke:0.1px #2a2a2a;">-5.07%</div>
<div class="t" style="left:728.82px;top:503.00px;font-family:'Liberation Sans', sans-serif;font-size:14px;color:#2a2a2a;transform:scaleX(0.9100);-webkit-text-stroke:0.1px #2a2a2a;">-4.11%</div>
<div class="t" style="left:791.10px;top:503.00px;font-family:'Liberation Sans', sans-serif;font-size:14px;color:#2a2a2a;transform:scaleX(0.9100);-webkit-text-stroke:0.1px #2a2a2a;">2.16%</div>
<div class="t" style="left:849.75px;top:503.00px;font-family:'Liberation Sans', sans-serif;font-size:14px;color:#2a2a2a;transform:scaleX(0.9100);-webkit-text-stroke:0.1px #2a2a2a;">-0.06%</div>
<div class="t" style="left:907.45px;top:503.00px;font-family:'Liberation Sans', sans-serif;font-size:14px;color:#2a2a2a;transform:scaleX(0.9100);-webkit-text-stroke:0.1px #2a2a2a;">-2.66%</div>
<div class="t" style="left:3.00px;top:524.00px;font-family:'Liberation Sans', sans-serif;font-size:14px;color:#262626;transform:scaleX(0.8961);-webkit-text-stroke:0.15px #262626;">CRB *</div>
<div class="t" style="left:377.33px;top:524.00px;font-family:'Liberation Sans', sans-serif;font-size:14px;font-weight:bold;color:#111;transform:scaleX(0.9200);-webkit-text-stroke:0.15px #111;">369.42</div>
<div class="t" style="left:460.41px;top:524.00px;font-family:'Liberation Sans', sans-serif;font-size:14px;color:#968038;transform:scaleX(0.9100);-webkit-text-stroke:0.1px #968038;">0.23%</div>
<div class="t" style="left:523.91px;top:524.00px;font-family:'Liberation Sans', sans-serif;font-size:14px;color:#2a2a2a;transform:scaleX(0.9100);-webkit-text-stroke:0.1px #2a2a2a;">0.36%</div>
<div class="t" style="left:589.11px;top:524.00px;font-family:'Liberation Sans', sans-serif;font-size:14px;color:#1f2d3a;transform:scaleX(0.9100);-webkit-text-stroke:0.1px #1f2d3a;">3.55%</div>
<div class="t" style="left:670.21px;top:524.00px;font-family:'Liberation Sans', sans-serif;font-size:14px;color:#2a2a2a;transform:scaleX(0.9100);-webkit-text-stroke:0.1px #2a2a2a;">3.55%</div>
<div class="t" style="left:728.25px;top:524.00px;font-family:'Liberation Sans', sans-serif;font-size:14px;color:#2a2a2a;transform:scaleX(0.9100);-webkit-text-stroke:0.1px #2a2a2a;">-0.93%</div>
<div class="t" style="left:789.05px;top:524.00px;font-family:'Liberation Sans', sans-serif;font-size:14px;color:#2a2a2a;transform:scaleX(0.9100);-webkit-text-stroke:0.1px #2a2a2a;">-3.76%</div>
<div class="t" style="left:851.80px;top:524.00px;font-family:'Liberation Sans', sans-serif;font-size:14px;color:#2a2a2a;transform:scaleX(0.9100);-webkit-text-stroke:0.1px #2a2a2a;">2.00%</div>
<div class="t" style="left:905.86px;top:524.00px;font-family:'Liberation Sans', sans-serif;font-size:14px;color:#2a2a2a;transform:scaleX(0.9100);-webkit-text-stroke:0.1px #2a2a2a;">18.37%</div>
<div class="t" style="left:3.00px;top:545.00px;font-family:'Liberation Sans', sans-serif;font-size:14px;color:#262626;transform:scaleX(0.9555);-webkit-text-stroke:0.15px #262626;">Baltic Dry Index</div>
<div class="t" style="left:366.52px;top:545.00px;font-family:'Liberation Sans', sans-serif;font-size:14px;font-weight:bold;color:#111;transform:scaleX(0.9200);-webkit-text-stroke:0.15px #111;">1,663.00</div>
<div class="t" style="left:456.66px;top:545.00px;font-family:'Liberation Sans', sans-serif;font-size:14px;color:#968038;transform:scaleX(0.9100);-webkit-text-stroke:0.1px #968038;">15.81%</div>
<div class="t" style="left:520.62px;top:545.00px;font-family:'Liberation Sans', sans-serif;font-size:14px;color:#2a2a2a;transform:scaleX(0.9100);-webkit-text-stroke:0.1px #2a2a2a;">11.69%</div>
<div class="t" style="left:585.47px;top:545.00px;font-family:'Liberation Sans', sans-serif;font-size:14px;color:#1f2d3a;transform:scaleX(0.9100);-webkit-text-stroke:0.1px #1f2d3a;">66.80%</div>
<div class="t" style="left:670.10px;top:545.00px;font-family:'Liberation Sans', sans-serif;font-size:14px;color:#2a2a2a;transform:scaleX(0.9100);-webkit-text-stroke:0.1px #2a2a2a;">5.01%</div>
<div class="t" style="left:730.30px;top:545.00px;font-family:'Liberation Sans', sans-serif;font-size:14px;color:#2a2a2a;transform:scaleX(0.9100);-webkit-text-stroke:0.1px #2a2a2a;">2.31%</div>
<div class="t" style="left:785.53px;top:545.00px;font-family:'Liberation Sans', sans-serif;font-size:14px;color:#2a2a2a;transform:scaleX(0.9100);-webkit-text-stroke:0.1px #2a2a2a;">-13.48%</div>
<div class="t" style="left:848.39px;top:545.00px;font-family:'Liberation Sans', sans-serif;font-size:14px;color:#2a2a2a;transform:scaleX(0.9100);-webkit-text-stroke:0.1px #2a2a2a;">30.35%</div>
<div class="t" style="left:903.93px;top:545.00px;font-family:'Liberation Sans', sans-serif;font-size:14px;color:#2a2a2a;transform:scaleX(0.9100);-webkit-text-stroke:0.1px #2a2a2a;">-52.39%</div>
<div class="t" style="left:3.00px;top:566.00px;font-family:'Liberation Sans', sans-serif;font-size:14px;color:#262626;transform:scaleX(0.9187);-webkit-text-stroke:0.15px #262626;">Chicago FED NFCI (level:&nbsp; <span style="color:#e0202a">-</span> = loose,&nbsp; + = tight)</div>
<div class="t" style="left:377.76px;top:566.00px;font-family:'Liberation Sans', sans-serif;font-size:14px;font-weight:bold;color:#d42030;transform:scaleX(0.9200);-webkit-text-stroke:0.15px #d42030;">-0.4969</div>
<div class="t" style="left:457.00px;top:566.00px;font-family:'Liberation Sans', sans-serif;font-size:14px;color:#968038;transform:scaleX(0.9100);-webkit-text-stroke:0.1px #968038;">-0.4983</div>
<div class="t" style="left:520.50px;top:566.00px;font-family:'Liberation Sans', sans-serif;font-size:14px;color:#2a2a2a;transform:scaleX(0.9100);-webkit-text-stroke:0.1px #2a2a2a;">-0.4969</div>
<div class="t" style="left:585.70px;top:566.00px;font-family:'Liberation Sans', sans-serif;font-size:14px;color:#1f2d3a;transform:scaleX(0.9100);-webkit-text-stroke:0.1px #1f2d3a;">-0.4862</div>
<div class="t" style="left:666.69px;top:566.00px;font-family:'Liberation Sans', sans-serif;font-size:14px;color:#2a2a2a;transform:scaleX(0.9100);-webkit-text-stroke:0.1px #2a2a2a;">-0.4865</div>
<div class="t" style="left:732.39px;top:566.00px;font-family:'Liberation Sans', sans-serif;font-size:14px;color:#2a2a2a;transform:scaleX(0.9100);-webkit-text-stroke:0.1px #2a2a2a;">-0.4865</div>
<div class="t" style="left:787.80px;top:566.00px;font-family:'Liberation Sans', sans-serif;font-size:14px;color:#2a2a2a;transform:scaleX(0.9100);-webkit-text-stroke:0.1px #2a2a2a;">-0.3952</div>
<div class="t" style="left:844.86px;top:566.00px;font-family:'Liberation Sans', sans-serif;font-size:14px;color:#2a2a2a;transform:scaleX(0.9100);-webkit-text-stroke:0.1px #2a2a2a;">-0.41323</div>
<div class="t" style="left:906.20px;top:566.00px;font-family:'Liberation Sans', sans-serif;font-size:14px;color:#2a2a2a;transform:scaleX(0.9100);-webkit-text-stroke:0.1px #2a2a2a;">-0.4841</div>
<div class="t" style="left:4.45px;top:606.00px;font-family:'Liberation Sans', sans-serif;font-size:13.75px;color:#333;transform:scaleX(0.9977);">** National Financial Conditons Index (+ = &nbsp;tight), subject to large revisions.</div>
<div class="t" style="left:6.79px;top:633.00px;font-family:'Liberation Serif', serif;font-size:14.3px;color:#111;transform:scaleX(1.0159);">Data Sources: &nbsp;Bloomberg, &nbsp;Yahoo Finance, investing.com,</div>
<div class="t" style="left:790.15px;top:603.00px;font-family:'Liberation Sans', sans-serif;font-size:17px;font-weight:bold;color:#111;-webkit-text-stroke:0.2px #111;">Global Macro Monitor</div>
<div class="t" style="left:782.05px;top:632.00px;font-family:'Liberation Sans', sans-serif;font-size:16.8px;font-weight:bold;color:#111;transform:scaleX(0.9938);-webkit-text-stroke:0.2px #111;">global-macro-monitor.com</div>
</div></body></html>
